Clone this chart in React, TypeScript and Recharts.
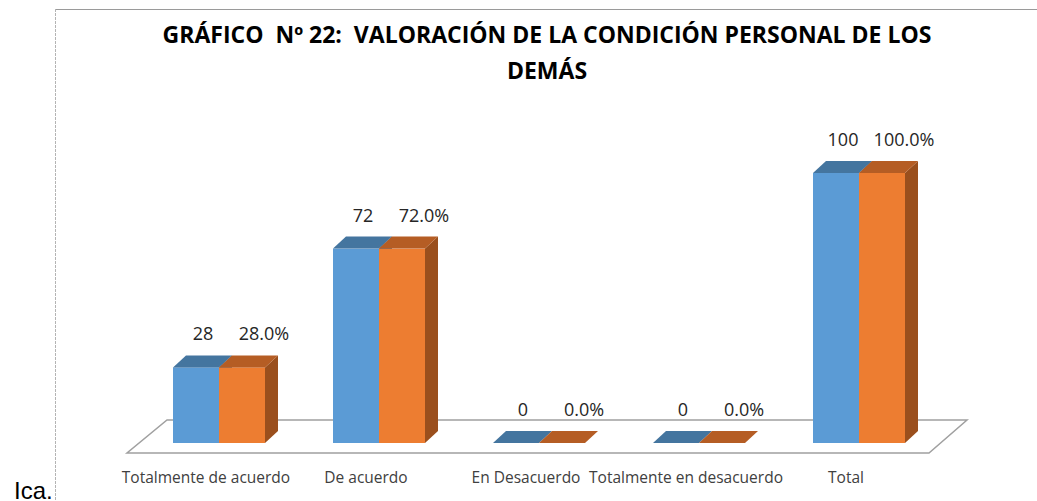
import { BarChart, Bar, XAxis, YAxis, LabelList } from 'recharts'

// categorías y valores del gráfico
const categorias = [
  'Totalmente de acuerdo',
  'De acuerdo',
  'En Desacuerdo',
  'Totalmente en desacuerdo',
  'Total',
]
const frecuencia = [28, 72, 0, 0, 100]
const porcentaje = [28, 72, 0, 0, 100]

const W = 1037
const H = 501
const PLOT = { left: 139, right: 939, top: 173, bottom: 443 }
const DEPTH = { dx: 13, dy: 12 }

const AZUL = { front: '#5b9bd5', top: '#44759f', side: '#3d6c96' }
const NARANJA = { front: '#ed7d31', top: '#b55d24', side: '#9a4f1d' }

const FONT = '"Open Sans", "Noto Sans", sans-serif'

const data = categorias.map((name, i) => ({
  name,
  frecuencia: frecuencia[i],
  porcentaje: porcentaje[i],
}))

// caja 3D: cara frontal, superior y lateral
function Caja({ x, y, width, height, colors }: any) {
  const { dx, dy } = DEPTH
  const h = Math.max(0, height || 0)
  const topFace = `${x},${y} ${x + dx},${y - dy} ${x + width + dx},${y - dy} ${x + width},${y}`
  const sideFace = `${x + width},${y} ${x + width + dx},${y - dy} ${x + width + dx},${y + h - dy} ${x + width},${y + h}`
  return (
    <g>
      {h > 0 && <polygon points={sideFace} fill={colors.side} />}
      {h > 0 && <rect x={x} y={y} width={width} height={h} fill={colors.front} />}
      <polygon points={topFace} fill={colors.top} />
    </g>
  )
}

function etiqueta(offsetX: number, fmt: (v: number) => string) {
  return (p: any) => {
    const { x, y, width, value } = p
    return (
      <text
        x={x + width / 2 + offsetX}
        y={y - 27}
        textAnchor="middle"
        fontFamily={FONT}
        fontSize={18}
        fill="#262626"
      >
        {fmt(Number(value))}
      </text>
    )
  }
}

const TickX = ({ x, payload }: any) => (
  <text
    x={x - 13}
    y={PLOT.bottom + 40}
    textAnchor="middle"
    fontFamily={FONT}
    fontSize={15.5}
    fill="#404040"
  >
    {payload.value}
  </text>
)

export default function App() {
  return (
    <div style={{ position: 'absolute', left: 0, top: 0, width: W, height: H, overflow: 'hidden', background: '#fff' }}>
      {/* fondo: marco, piso y título */}
      <svg width={W} height={H} style={{ position: 'absolute', left: 0, top: 0 }}>
        <line x1={55} y1={9.5} x2={W} y2={9.5} stroke="#9a9a9a" strokeWidth={1} />
        <line x1={55.5} y1={9} x2={55.5} y2={H} stroke="#b4b4b4" strokeWidth={1} strokeDasharray="3 1" />
        <polygon
          points="127,453 929,453 967,420 167,420"
          fill="#fff"
          stroke="#a0a0a0"
          strokeWidth={1.5}
        />
        <text x={547} y={43} textAnchor="middle" fontFamily={FONT} fontWeight={700} fontSize={23} fill="#000" style={{ whiteSpace: 'pre' }}>
          {'GRÁFICO  Nº 22:  VALORACIÓN DE LA CONDICIÓN PERSONAL DE LOS'}
        </text>
        <text x={547} y={79} textAnchor="middle" fontFamily={FONT} fontWeight={700} fontSize={23} fill="#000">
          DEMÁS
        </text>
        <text x={14} y={499} fontFamily='"Liberation Sans", Arial, sans-serif' fontSize={24} fill="#000">
          Ica.
        </text>
      </svg>
      <div style={{ position: 'absolute', left: 0, top: 0 }}>
        <BarChart
          width={W}
          height={H}
          data={data}
          margin={{ top: PLOT.top, left: PLOT.left, right: W - PLOT.right, bottom: H - PLOT.bottom - 30 }}
          barCategoryGap="21.25%"
          barGap={0}
        >
          <XAxis dataKey="name" height={30} axisLine={false} tickLine={false} tick={<TickX />} interval={0} />
          <YAxis hide domain={[0, 100]} />
          <Bar
            dataKey="frecuencia"
            isAnimationActive={false}
            shape={(p: any) => <Caja {...p} colors={AZUL} />}
          >
            <LabelList dataKey="frecuencia" content={etiqueta(7, v => String(v))} />
          </Bar>
          <Bar
            dataKey="porcentaje"
            isAnimationActive={false}
            shape={(p: any) => <Caja {...p} colors={NARANJA} />}
          >
            <LabelList dataKey="porcentaje" content={etiqueta(22, v => v.toFixed(1) + '%')} />
          </Bar>
        </BarChart>
      </div>
    </div>
  )
}
